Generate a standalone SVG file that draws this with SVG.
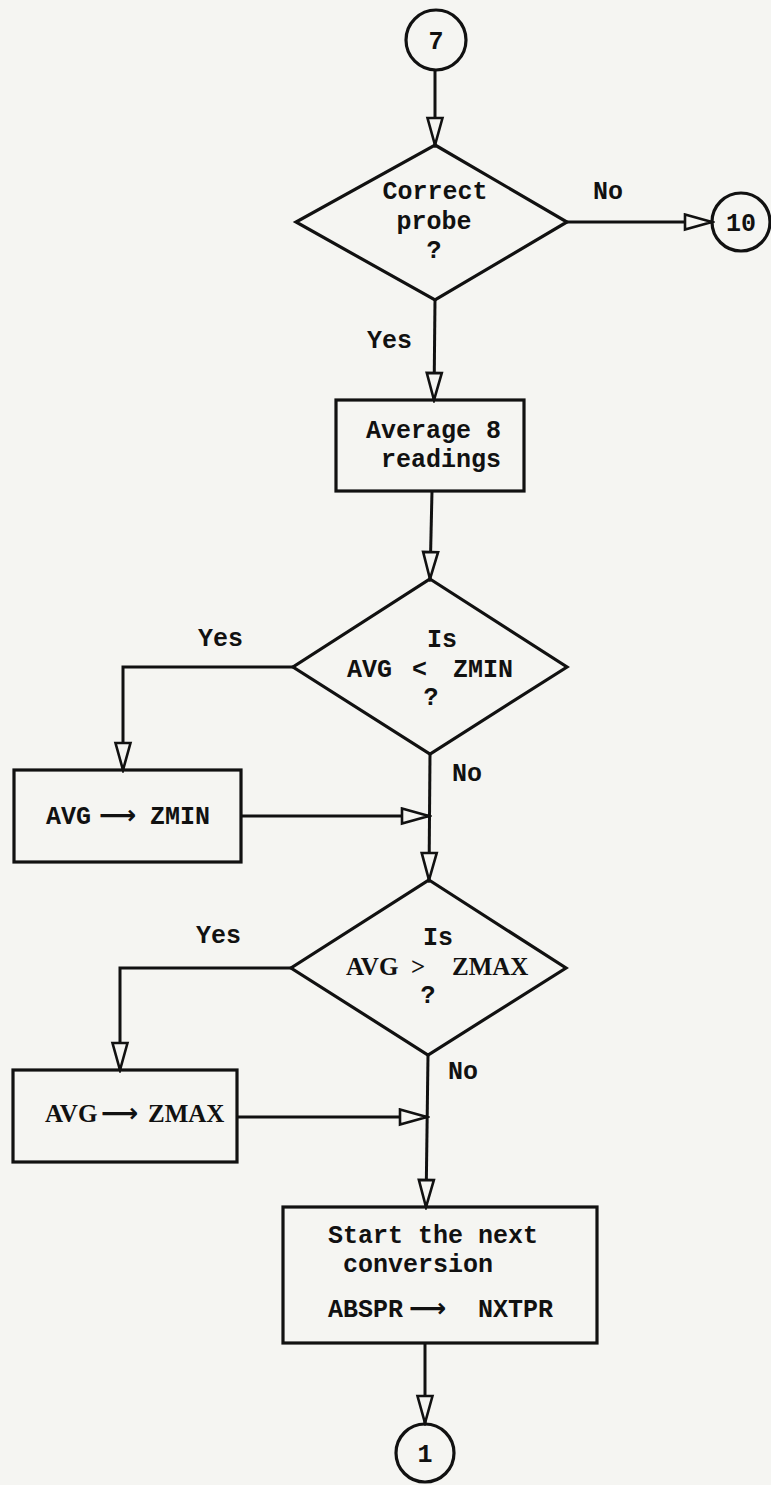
<svg xmlns="http://www.w3.org/2000/svg" width="771" height="1485" viewBox="0 0 771 1485">
  <defs>
    <style>
      .bg { fill: #f5f5f2; }
      .shape { fill: none; stroke: #111; stroke-width: 3.2; stroke-linejoin: miter; }
      .wire { fill: none; stroke: #111; stroke-width: 3; }
      .t { font-family: "Liberation Mono", "Courier New", monospace; font-weight: bold; font-size: 25px; fill: #111; }
      .s { font-family: "Liberation Serif", "Times New Roman", serif; font-weight: bold; font-size: 25px; fill: #111; }
      .arr { font-family: "DejaVu Sans", sans-serif; font-weight: bold; font-size: 26px; fill: #111; }
      .m { text-anchor: middle; }
    </style>
    <!-- open triangular arrowhead, tip at the end of the line -->
    <marker id="head" markerUnits="userSpaceOnUse" markerWidth="32" markerHeight="20" viewBox="-2 -2 32 20" refX="27" refY="7.5" orient="auto">
      <path d="M0,0 L27,7.5 L0,15 Z" fill="#f5f5f2" stroke="#111" stroke-width="2.6" stroke-linejoin="miter"/>
    </marker>
  </defs>

  <rect class="bg" x="0" y="0" width="771" height="1485"/>

  <!-- connectors -->
  <g id="connectors">
    <path class="wire" d="M435,70 L435,145" marker-end="url(#head)"/>
    <path class="wire" d="M567,222 L712,222" marker-end="url(#head)"/>
    <path class="wire" d="M435,300 L434,400" marker-end="url(#head)"/>
    <path class="wire" d="M432,491 L430,579" marker-end="url(#head)"/>
    <path class="wire" d="M293,667 L123,667 L123,770" marker-end="url(#head)"/>
    <path class="wire" d="M430,754 L429,880" marker-end="url(#head)"/>
    <path class="wire" d="M241,816 L429,816" marker-end="url(#head)"/>
    <path class="wire" d="M291,968 L120,968 L120,1070" marker-end="url(#head)"/>
    <path class="wire" d="M428,1055 L426,1207" marker-end="url(#head)"/>
    <path class="wire" d="M237,1117 L427,1117" marker-end="url(#head)"/>
    <path class="wire" d="M425,1343 L425,1423" marker-end="url(#head)"/>
    <!-- branch labels -->
    <text class="t" x="593" y="199">No</text>
    <text class="t" x="367" y="348">Yes</text>
    <text class="t" x="198" y="646">Yes</text>
    <text class="t" x="452" y="781">No</text>
    <text class="t" x="196" y="943">Yes</text>
    <text class="t" x="448" y="1079">No</text>
  </g>

  <!-- entry connector 7 -->
  <g id="conn7">
    <circle class="shape" cx="436" cy="40" r="30"/>
    <text class="t m" x="436" y="49">7</text>
  </g>

  <!-- probe check -->
  <g id="probeCheck">
    <polygon class="shape" points="435,145 567,222 435,300 296,222"/>
    <text class="t m" x="435" y="199">Correct</text>
    <text class="t m" x="434" y="229">probe</text>
    <text class="t m" x="434" y="258">?</text>
  </g>

  <!-- exit connector 10 -->
  <g id="conn10">
    <circle class="shape" cx="741" cy="222" r="29"/>
    <text class="t m" x="741" y="231">10</text>
  </g>

  <!-- averaging step -->
  <g id="average">
    <rect class="shape" x="336" y="400" width="188" height="91"/>
    <text class="t" x="501" y="438" text-anchor="end">Average 8</text>
    <text class="t" x="501" y="467" text-anchor="end">readings</text>
  </g>

  <!-- minimum test -->
  <g id="minCheck">
    <polygon class="shape" points="430,579 567,667 430,754 293,667"/>
    <text class="t" x="427" y="647">Is</text>
    <text class="t" x="347" y="677">AVG</text>
    <text class="t" x="412" y="677">&lt;</text>
    <text class="t" x="453" y="677">ZMIN</text>
    <text class="t m" x="431" y="705">?</text>
  </g>

  <!-- store new minimum -->
  <g id="setMin">
    <rect class="shape" x="14" y="770" width="227" height="92"/>
    <text class="t" x="46" y="824">AVG</text>
    <text class="arr" x="99" y="824">⟶</text>
    <text class="t" x="150" y="824">ZMIN</text>
  </g>

  <!-- maximum test -->
  <g id="maxCheck">
    <polygon class="shape" points="429,880 566,968 428,1055 291,968"/>
    <text class="t" x="423" y="945">Is</text>
    <text class="s" x="346" y="975">AVG</text>
    <text class="s" x="411" y="975">&gt;</text>
    <text class="s" x="452" y="975">ZMAX</text>
    <text class="t m" x="428" y="1003">?</text>
  </g>

  <!-- store new maximum -->
  <g id="setMax">
    <rect class="shape" x="13" y="1070" width="224" height="92"/>
    <text class="s" x="45" y="1122">AVG</text>
    <text class="arr" x="101" y="1122">⟶</text>
    <text class="s" x="148" y="1122">ZMAX</text>
  </g>

  <!-- next conversion -->
  <g id="nextConversion">
    <rect class="shape" x="283" y="1207" width="314" height="136"/>
    <text class="t" x="328" y="1243">Start the next</text>
    <text class="t" x="343" y="1272">conversion</text>
    <text class="t" x="328" y="1317">ABSPR</text>
    <text class="arr" x="409" y="1317">⟶</text>
    <text class="t" x="478" y="1317">NXTPR</text>
  </g>

  <!-- return connector 1 -->
  <g id="conn1">
    <circle class="shape" cx="425" cy="1453" r="29"/>
    <text class="t m" x="425" y="1462">1</text>
  </g>
</svg>
